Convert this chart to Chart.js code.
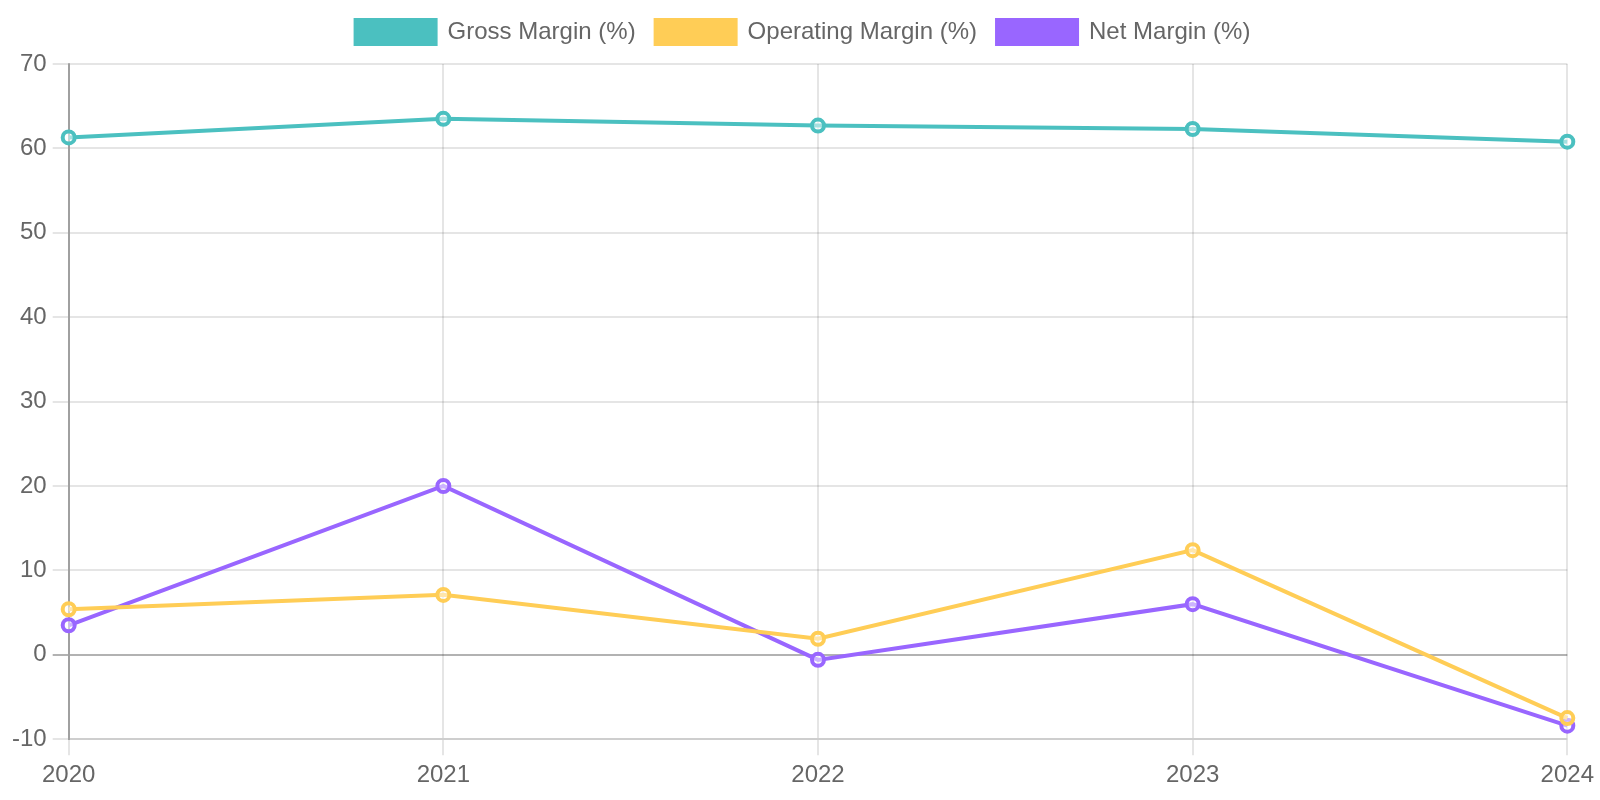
<!DOCTYPE html>
<html>
<head>
<meta charset="utf-8">
<script src="https://cdn.jsdelivr.net/npm/chart.js@4"></script>
<style>
html,body{margin:0;padding:0;background:#fff;overflow:hidden;}
#wrap{position:absolute;left:0;top:0;width:800px;height:400px;transform:scale(2);transform-origin:0 0;}
</style>
</head>
<body>
<div id="wrap"><canvas id="c" width="800" height="400"></canvas></div>
<script>
const years = ['2020','2021','2022','2023','2024'];
const grossMargin = [61.3, 63.5, 62.7, 62.3, 60.8];
const operatingMargin = [5.4, 7.1, 1.9, 12.4, -7.5];
const netMargin = [3.5, 20.0, -0.6, 6.0, -8.4];

Chart.defaults.font.size = 12;
Chart.defaults.color = '#666';

function ds(label, data, color){
  return {label, data, borderColor: color, backgroundColor: color,
    pointBackgroundColor: 'rgba(255,255,255,0.5)', pointBorderColor: color,
    pointRadius: 3, pointBorderWidth: 2, borderWidth: 2, tension: 0, fill: false};
}

new Chart(document.getElementById('c'), {
  type: 'line',
  data: {labels: years, datasets: [
    ds('Gross Margin (%)', grossMargin, '#4BC0C0'),
    ds('Operating Margin (%)', operatingMargin, '#FFCD56'),
    ds('Net Margin (%)', netMargin, '#9966FF')
  ]},
  options: {
    responsive: false, maintainAspectRatio: false, animation: false,
    devicePixelRatio: 2,
    layout: {padding: {left: 3, bottom: 2}},
    plugins: {legend: {labels: {boxWidth: 40}}},
    scales: {
      x: {grid: {color: 'rgba(0,0,0,0.1)'}},
      y: {min: -10, max: 70, ticks: {stepSize: 10},
          border: {color: 'rgba(0,0,0,0.3)'},
          grid: {color: ctx => ctx.tick && ctx.tick.value === 0 ? 'rgba(0,0,0,0.3)' : 'rgba(0,0,0,0.1)'}}
    }
  }
});
</script>
</body>
</html>
